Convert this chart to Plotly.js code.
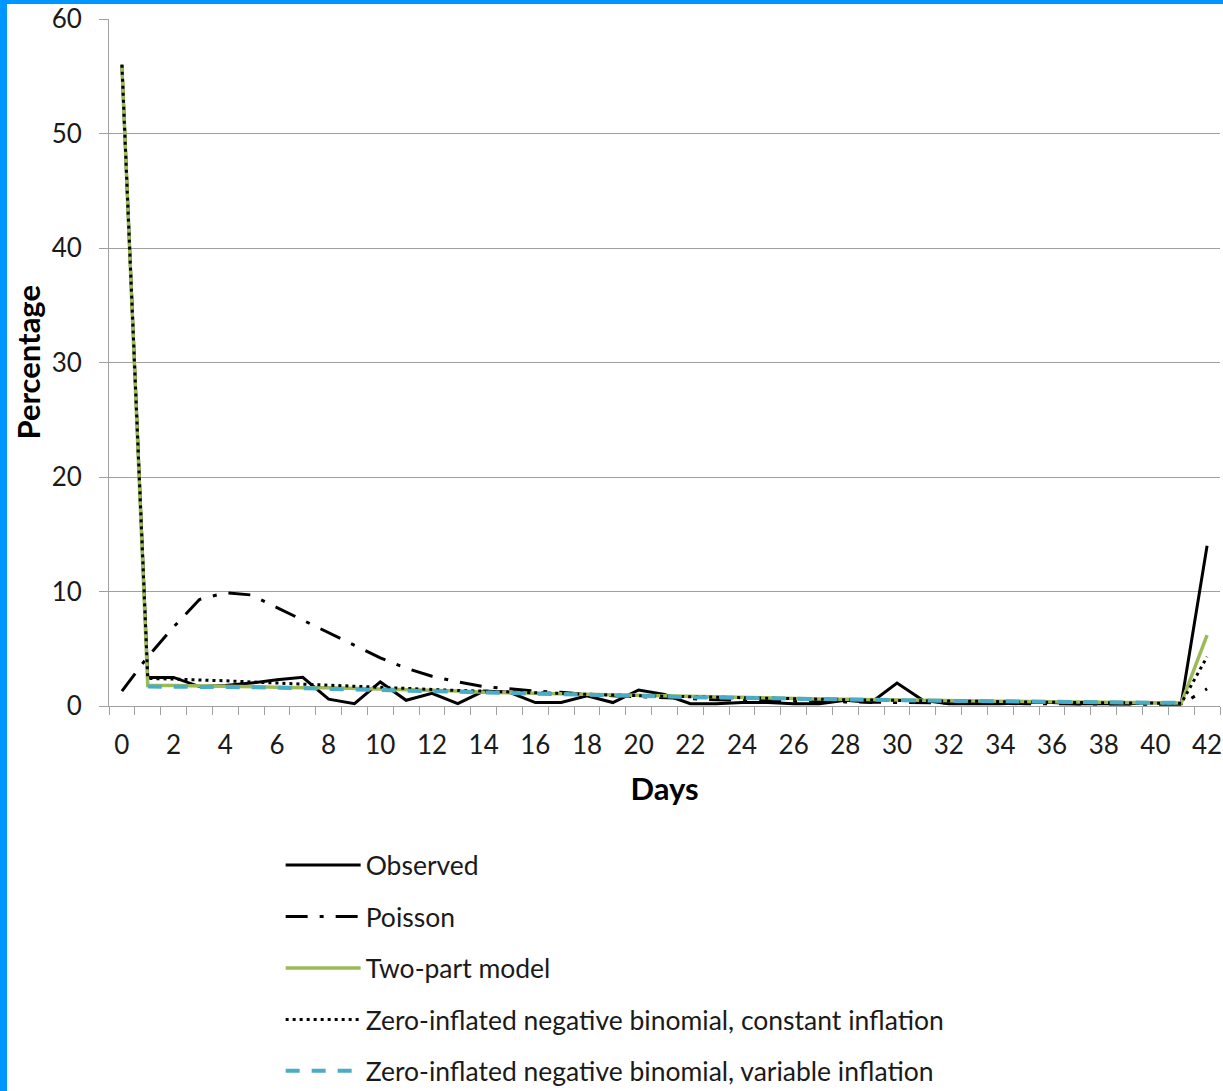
<!DOCTYPE html>
<html>
<head>
<meta charset="utf-8">
<script src="https://cdn.plot.ly/plotly-3.0.1.min.js"></script>
<style>
html,body{margin:0;padding:0;background:#fff;}
#chart{position:absolute;left:0;top:0;width:1223px;height:1091px;}
.bar{position:absolute;background:#0096FF;}
</style>
</head>
<body>
<div id="chart"></div>
<div class="bar" style="left:0;top:0;width:7px;height:1091px;"></div>
<div class="bar" style="left:0;top:0;width:1223px;height:4px;"></div>
<script>
const days = [0,1,2,3,4,5,6,7,8,9,10,11,12,13,14,15,16,17,18,19,20,21,22,23,24,25,26,27,28,29,30,31,32,33,34,35,36,37,38,39,40,41,42];

const observed = [56,2.5,2.5,1.7,1.8,2.0,2.3,2.5,0.6,0.2,2.1,0.5,1.1,0.2,1.3,1.2,0.3,0.3,0.9,0.3,1.4,1.0,0.2,0.2,0.3,0.3,0.2,0.2,0.5,0.3,2.0,0.5,0.2,0.2,0.2,0.3,0.3,0.2,0.2,0.2,0.3,0.2,14.0];

const poisson = [1.3,4.3,6.9,9.3,9.9,9.7,8.6,7.5,6.4,5.3,4.2,3.3,2.6,2.1,1.7,1.5,1.3,1.2,1.0,0.9,0.8,0.7,0.6,0.55,0.5,0.45,0.42,0.4,0.36,0.33,0.3,0.28,0.26,0.24,0.22,0.2,0.19,0.18,0.17,0.16,0.15,0.15,1.5];

const twoPart = [56,1.8,1.8,1.75,1.75,1.7,1.65,1.6,1.6,1.55,1.5,1.45,1.35,1.3,1.2,1.15,1.1,1.05,1.0,0.95,0.9,0.85,0.8,0.75,0.72,0.68,0.65,0.62,0.6,0.56,0.52,0.5,0.47,0.45,0.42,0.4,0.37,0.34,0.32,0.3,0.28,0.26,6.2];

const zinbConst = [56,2.4,2.35,2.3,2.2,2.1,2.0,1.95,1.85,1.75,1.65,1.55,1.45,1.35,1.3,1.2,1.15,1.1,1.0,0.95,0.9,0.85,0.8,0.75,0.7,0.66,0.62,0.58,0.55,0.52,0.48,0.45,0.42,0.4,0.38,0.35,0.33,0.31,0.29,0.27,0.25,0.23,4.3];

const zinbVar = [null,1.7,1.7,1.68,1.66,1.64,1.6,1.56,1.52,1.48,1.42,1.36,1.3,1.24,1.18,1.12,1.06,1.0,0.95,0.9,0.86,0.82,0.78,0.74,0.7,0.67,0.64,0.6,0.57,0.54,0.51,0.48,0.45,0.43,0.41,0.39,0.37,0.35,0.33,0.31,0.29,0.27,null];

const names = ["Observed","Poisson","Two-part model","Zero-inflated negative binomial, constant inflation","Zero-inflated negative binomial, variable inflation"];

const xLabels = days.filter(d => d % 2 === 0);
const boundaries = days.concat([43]).map(d => d - 0.5);

const FONT = "Lato, 'Noto Sans', sans-serif";

function tr(y, name, color, width, dash, grp) {
  return {x: days, y: y, name: name, type: 'scatter', mode: 'lines',
    line: {color: color, width: width, dash: dash}, legendgroup: grp, connectgaps: false};
}

const data = [
  tr(observed, names[0], '#000000', 3, 'solid', 'a'),
  tr(poisson, names[1], '#000000', 3, '22px,12px,4px,12px', 'b'),
  tr(twoPart, names[2], '#9BBB59', 3.5, 'solid', 'c'),
  tr(zinbConst, names[3], '#000000', 3, '3px,4px', 'd'),
  tr(zinbVar, names[4], '#4BACC6', 4, '14px,12px', 'e')
];

const layout = {
  width: 1223, height: 1091,
  margin: {l: 109, r: 3, t: 19, b: 385, autoexpand: false},
  paper_bgcolor: '#ffffff', plot_bgcolor: '#ffffff',
  font: {family: FONT, size: 26, color: '#1a1a1a'},
  showlegend: true,
  legend: {x: 0.1545, y: -0.197, xanchor: 'left', yanchor: 'top',
    font: {family: FONT, size: 26.5, color: '#1a1a1a'},
    itemwidth: 75, tracegroupgap: 14, bgcolor: 'rgba(0,0,0,0)'},
  xaxis: {
    range: [-0.5, 42.5], type: 'linear',
    tickmode: 'array', tickvals: xLabels, ticktext: xLabels.map(String),
    ticks: '', showgrid: false, zeroline: false,
    showline: true, linecolor: '#a0a0a0', linewidth: 1,
    minor: {tickmode: 'array', tickvals: boundaries, ticks: 'outside', ticklen: 8, tickcolor: '#a0a0a0', tickwidth: 1, showgrid: false},
    ticklabelstandoff: 16,
    tickfont: {family: FONT, size: 26, color: '#1a1a1a'},
    title: {text: '<b>Days</b>', font: {family: FONT, size: 31, color: '#000'}, standoff: 19}
  },
  yaxis: {
    range: [0, 60], tickmode: 'array', tickvals: [0,10,20,30,40,50,60],
    ticks: 'outside', ticklen: 9, tickcolor: '#a0a0a0',
    showgrid: true, gridcolor: '#a0a0a0', gridwidth: 1, zeroline: false,
    showline: true, linecolor: '#a0a0a0', linewidth: 1,
    ticklabelstandoff: 12,
    tickfont: {family: FONT, size: 26, color: '#1a1a1a'}
  },
  annotations: [{
    text: '<b>Percentage</b>', textangle: -90, showarrow: false,
    xref: 'paper', yref: 'paper', x: -0.0738, y: 0.5, xanchor: 'center', yanchor: 'middle',
    font: {family: FONT, size: 31, color: '#000'}
  }]
};

Plotly.newPlot('chart', data, layout, {displayModeBar: false, staticPlot: true});
</script>
</body>
</html>
